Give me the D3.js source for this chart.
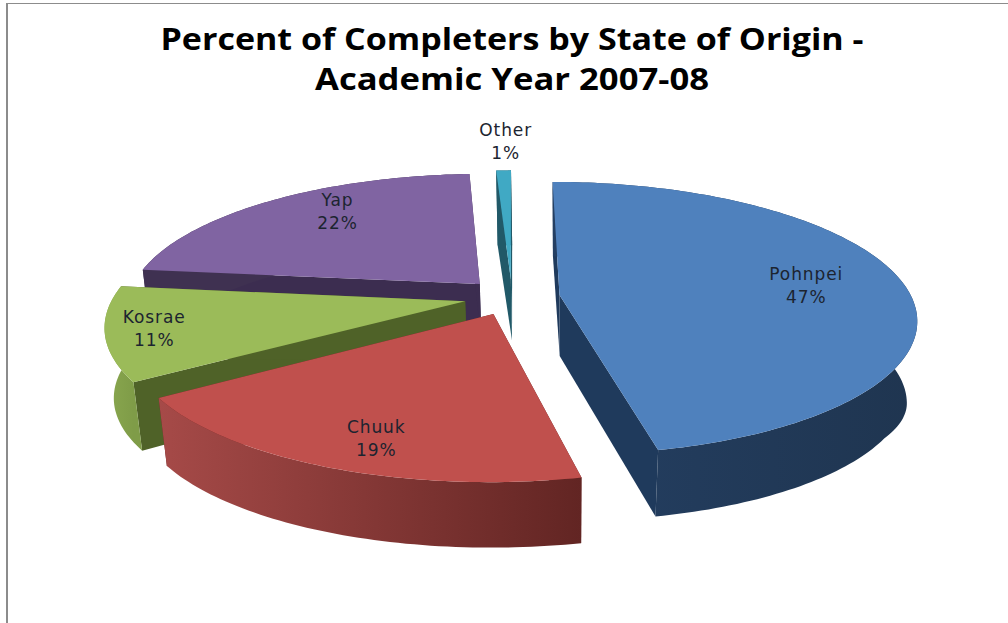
<!DOCTYPE html>
<html>
<head>
<meta charset="utf-8">
<script src="https://cdn.jsdelivr.net/npm/d3@7"></script>
<style>
    html, body { margin: 0; padding: 0; background: #fff; }
    svg { display: block; }
</style>
</head>
<body>
<div id="chart"></div>
<script>
// Values, the labels round them
const states = ["Pohnpei", "Chuuk", "Kosrae", "Yap", "Other"];
const percents = [46.6, 19.2, 11.0, 22.4, 0.8];
const titleLines = ["Percent of Completers by State of Origin -", "Academic Year 2007-08"];

const topColors = ["#4f81bd", "#c0504d", "#9bbb59", "#8064a2", "#40a9c4"];
const wallColors = ["#1f3a5c", "#632423", "#4f6228", "#3c2d50", "#215968"];
const sideStops = [
    ["#243f62", "#1f3550"],
    ["#a64a48", "#622523"],
    ["#8aa84f", "#7f9c48"],
    ["#3f3151", "#3f3151"],
    ["#215968", "#215968"]
];
// back slices first so the front ones cover them
const drawOrder = [3, 4, 2, 0, 1];

const width = 1008;
const height = 623;

const svg = d3.select("#chart").append("svg")
    .attr("width", width)
    .attr("height", height);

const defs = svg.append("defs");

// Frame of the pasted chart, only top and left show
svg.append("path")
    .attr("d", `M7,3V${height}`)
    .attr("stroke", "#8c8c8c")
    .attr("stroke-width", 2);
svg.append("path")
    .attr("d", `M7,3.5H${width}`)
    .attr("stroke", "#8c8c8c")
    .attr("stroke-width", 1.2);

// The title is stretched sideways in the original
const titleWidths = [703, 394];

svg.selectAll(".title")
    .data(titleLines)
    .enter()
    .append("text")
    .attr("class", "title")
    .attr("x", 512)
    .attr("y", (d, i) => 50 + i * 40)
    .attr("text-anchor", "middle")
    .attr("textLength", (d, i) => titleWidths[i])
    .attr("lengthAdjust", "spacingAndGlyphs")
    .style("font-family", "'Open Sans', sans-serif")
    .style("font-weight", 700)
    .style("font-size", "31px")
    .attr("fill", "#000")
    .text(d => d);

// Perspective of the tilted disc
const centerX = 512;
const centerY = 297;
const radiusX = 352;
const radiusY = 133;
const tilt = 0.17;
const explode = 0.136;
const vanishX = 570;

function projectTop(angle, r, mid) {
    const u = explode * Math.sin(mid) + r * Math.sin(angle);
    const v = explode * Math.cos(mid) + r * Math.cos(angle);
    const w = 1 / (1 + tilt * v);
    return [centerX + radiusX * u * w, centerY - radiusY * v * w];
}

// Underside x, pulled in a bit more on the right than on the left
function bottomX(x) {
    return vanishX + (x - vanishX) * (x < vanishX ? 0.98 : 0.97);
}
function apexBottom(p) {
    return [bottomX(p[0]), p[1] + 61];
}
// The right end of the rim hangs a little lower in the original
const rightDrop = d3.scaleLinear().domain([320, 370]).range([12, 0]).clamp(true);
function rimBottom(p) {
    const drop = p[0] > vanishX ? rightDrop(p[1]) : 0;
    return [bottomX(p[0]), centerY + 71 + (p[1] - centerY) * 0.97 + drop];
}

const pieData = d3.pie().sort(null).value(d => d)(percents);
const line = d3.line();

function arcPoints(d, mid) {
    const steps = Math.max(4, Math.ceil((d.endAngle - d.startAngle) / 0.02));
    return d3.range(steps + 1).map(i => {
        const a = d.startAngle + (d.endAngle - d.startAngle) * i / steps;
        return projectTop(a, 1, mid);
    });
}

drawOrder.forEach(i => {
    const d = pieData[i];
    const mid = (d.startAngle + d.endAngle) / 2;
    const apex = projectTop(0, 0, mid);
    const rim = arcPoints(d, mid);
    const first = rim[0];
    const last = rim[rim.length - 1];
    const g = svg.append("g").attr("class", "slice");

    // the two cut faces
    [first, last].forEach(p => {
        g.append("path")
            .attr("d", line([apex, p, rimBottom(p), apexBottom(apex)]) + "Z")
            .attr("fill", wallColors[i]);
    });

    // rounded outer side
    const xs = d3.extent(rim, p => p[0]);
    const gradId = "side-" + i;
    const grad = defs.append("linearGradient")
        .attr("id", gradId)
        .attr("gradientUnits", "userSpaceOnUse")
        .attr("x1", xs[0]).attr("x2", xs[1])
        .attr("y1", 0).attr("y2", 0);
    grad.append("stop").attr("offset", "0%").attr("stop-color", sideStops[i][0]);
    grad.append("stop").attr("offset", "100%").attr("stop-color", sideStops[i][1]);

    g.append("path")
        .attr("d", line(rim.concat(rim.slice().reverse().map(rimBottom))) + "Z")
        .attr("fill", `url(#${gradId})`);

    // top face
    g.append("path")
        .attr("d", line([apex].concat(rim)) + "Z")
        .attr("fill", topColors[i]);
});

// Data labels sit at a share of the radius along the middle of each slice
const labelRadius = [0.7, 0.8, 0.87, 0.72, 1.32];
const labelNudgeX = [6, 11, 1, 12, 4];
const labelNudgeY = [1, 7, 0, -10, 0];

pieData.forEach((d, i) => {
    const mid = (d.startAngle + d.endAngle) / 2;
    const pos = projectTop(mid, labelRadius[i], mid);
    const x = pos[0] + labelNudgeX[i];
    const y = pos[1] + labelNudgeY[i];
    const label = svg.append("text")
        .attr("class", "label")
        .attr("text-anchor", "middle")
        .style("font-family", "'DejaVu Sans', sans-serif")
        .style("font-size", "17px")
        .style("letter-spacing", "0.9px")
        .attr("fill", "#1c2430");
    label.append("tspan").attr("x", x).attr("y", y - 6).text(states[i]);
    label.append("tspan").attr("x", x).attr("y", y + 17).text(Math.round(d.data) + "%");
});
</script>
</body>
</html>
